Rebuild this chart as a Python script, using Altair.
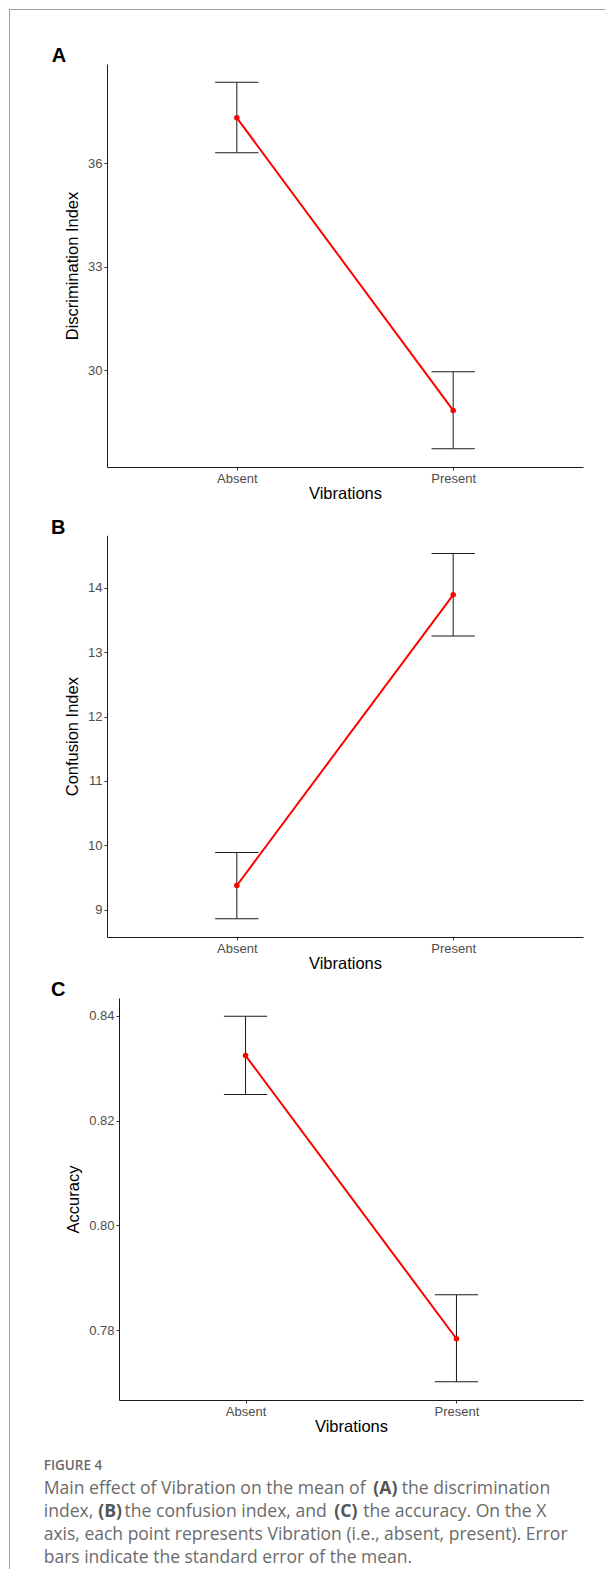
import altair as alt
import pandas as pd

# ---------------- data ----------------
vibrations = ["Absent", "Present"]

disc_mean = [37.32, 28.84]
disc_lo = [36.31, 27.73]
disc_hi = [38.35, 29.96]
disc_ticks = [30, 33, 36]

conf_mean = [9.376, 13.89]
conf_lo = [8.86, 13.25]
conf_hi = [9.89, 14.53]
conf_ticks = [9, 10, 11, 12, 13, 14]

acc_mean = [0.8324, 0.7784]
acc_lo = [0.8250, 0.7702]
acc_hi = [0.8399, 0.7868]
acc_ticks = [0.78, 0.80, 0.82, 0.84]

panel_letters = ["A", "B", "C"]
y_titles = ["Discrimination Index", "Confusion Index", "Accuracy"]
x_title = "Vibrations"

caption_head = "FIGURE 4"
caption_lines = [
    [("Main effect of Vibration on the mean of", False), ("(A)", True), ("the discrimination", False)],
    [("index,", False), ("(B)", True), ("the confusion index, and", False), ("(C)", True), ("the accuracy. On the X", False)],
    [("axis, each point represents Vibration (i.e., absent, present). Error", False)],
    [("bars indicate the standard error of the mean.", False)],
]
# left x of each segment (relative to panel C plot origin), one list per line
caption_seg_x = [
    [-63.3, 266.3, 294.7],
    [-63.3, -8.7, 17.5, 227.3, 256.3],
    [-63.3],
    [-63.3],
]
caption_line_y = [496, 519, 542, 565]
caption_line_size = [17.6, 17.6, 17.5, 17.5]

RED = "#ff0000"
INK = "#1a1a1a"
AXFONT = "Liberation Sans"
CAPFONT = "Open Sans"
one = pd.DataFrame({"k": [0]})


def note(text, x, y, size, weight="normal", color="black", font=AXFONT):
    return alt.Chart(one).mark_text(
        font=font, fontSize=size, fontWeight=weight, color=color,
        align="left", baseline="alphabetic"
    ).encode(x=alt.value(x), y=alt.value(y), text=alt.value(text))


def panel(mean, lo, hi, ticks, fmt, ytitle, letter, letter_xy, height,
          xrange=None, yrange=None, yoffset=0, extra=()):
    df = pd.DataFrame({"vib": vibrations, "mean": mean, "lo": lo, "hi": hi})
    span = max(hi) - min(lo)
    dom = [min(lo) - 0.05 * span, max(hi) + 0.05 * span]
    xs_kw = dict(type="point", domain=vibrations, padding=0.6)
    if xrange is not None:
        xs_kw["range"] = xrange
    ys_kw = dict(domain=dom, nice=False, zero=False)
    if yrange is not None:
        ys_kw["range"] = yrange
    xs = alt.Scale(**xs_kw)
    ys = alt.Scale(**ys_kw)
    xax = alt.Axis(title=x_title, labelAngle=0, labelFont=AXFONT, labelFontSize=13,
                   labelColor="#4d4d4d", titleFont=AXFONT, titleFontSize=16.5,
                   titleFontWeight="normal", titleColor="black", tickSize=3,
                   labelPadding=2, titlePadding=0.5, domainColor=INK, tickColor="#333333",
                   grid=False)
    yax = alt.Axis(title=ytitle, values=ticks, format=fmt, labelFont=AXFONT,
                   labelFontSize=13, labelColor="#4d4d4d", titleFont=AXFONT,
                   titleFontSize=16.5, titleFontWeight="normal", titleColor="black",
                   tickSize=3, labelPadding=2, titlePadding=7, domainColor=INK,
                   tickColor="#333333", grid=False, offset=yoffset)
    x = alt.X("vib:N", scale=xs, axis=xax, sort=vibrations)
    base = alt.Chart(df)
    stem = base.mark_rule(color=INK, strokeWidth=1).encode(
        x=x, y=alt.Y("lo:Q", scale=ys, axis=yax), y2="hi:Q")
    cap_lo = base.mark_tick(orient="horizontal", size=43.3, thickness=1, color=INK, opacity=1).encode(
        x=x, y=alt.Y("lo:Q", scale=ys, axis=yax))
    cap_hi = base.mark_tick(orient="horizontal", size=43.3, thickness=1, color=INK, opacity=1).encode(
        x=x, y=alt.Y("hi:Q", scale=ys, axis=yax))
    line = base.mark_line(color=RED, strokeWidth=2).encode(
        x=x, y=alt.Y("mean:Q", scale=ys, axis=yax))
    pts = base.mark_circle(color=RED, size=30, opacity=1).encode(
        x=x, y=alt.Y("mean:Q", scale=ys, axis=yax))
    lab = note(letter, letter_xy[0], letter_xy[1], 20, weight="bold")
    return alt.layer(stem, cap_lo, cap_hi, line, pts, lab, *extra).properties(
        width=476, height=height)


# border lines (top and left) of the figure frame
border_top = alt.Chart(one).mark_rule(color="#a0a0a0", strokeWidth=1).encode(
    x=alt.value(-98), x2=alt.value(498), y=alt.value(-54.5))
border_left = alt.Chart(one).mark_rule(color="#a0a0a0", strokeWidth=1).encode(
    x=alt.value(-97.5), y=alt.value(-55), y2=alt.value(1505))

# caption layers (placed under panel C)
cap_layers = [note(caption_head, -63.3, 472.3, 13.5, weight=600, color="#6b6b6b", font=CAPFONT)]
for segs, xs_, yy, fs in zip(caption_lines, caption_seg_x, caption_line_y, caption_line_size):
    for (txt, bold), xx in zip(segs, xs_):
        cap_layers.append(note(txt, xx, yy, fs, weight="bold" if bold else "normal",
                               color="#555555" if bold else "#6b6b6b", font=CAPFONT))

pA = panel(disc_mean, disc_lo, disc_hi, disc_ticks, "d", y_titles[0], panel_letters[0],
           (-55.3, -1.7), 403, extra=(border_top, border_left))
pB = panel(conf_mean, conf_lo, conf_hi, conf_ticks, "d", y_titles[1], panel_letters[1],
           (-56, 5.7), 409, yrange=[409, 7.3])
pC = panel(acc_mean, acc_lo, acc_hi, acc_ticks, ".2f", y_titles[2], panel_letters[2],
           (-56, -2), 402, xrange=[12, 476], yoffset=-12, extra=tuple(cap_layers))

chart = alt.vconcat(pA, pB, pC, spacing=61, bounds="flush").properties(
    padding=0, background="white"
).configure_view(stroke=None)

chart.save("out.html", embed_options={"renderer": "svg", "actions": False})
